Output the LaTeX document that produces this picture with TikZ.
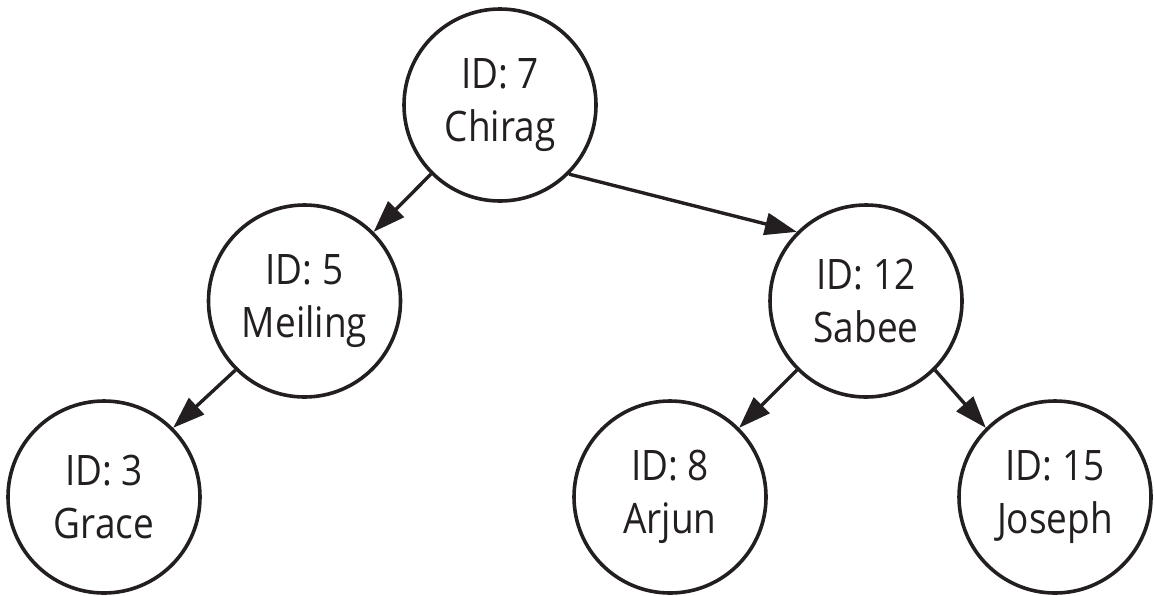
\documentclass[tikz,border=0pt]{standalone}
\usepackage{fontspec}
\setmainfont{Open Sans}[FakeStretch=0.88]
\usetikzlibrary{arrows.meta}
\definecolor{ink}{RGB}{35,31,32}
\begin{document}
\begin{tikzpicture}[x=0.5pt,y=-0.5pt,
  treenode/.style={circle,draw=ink,line width=1.8pt,minimum size=96pt,inner sep=0pt,
    align=center,text=ink,font=\fontsize{21pt}{26.5pt}\selectfont},
  link/.style={draw=ink,line width=1.7pt,-{Triangle[length=16pt,width=11pt]}}]
\useasboundingbox (0,0) rectangle (1154,595);
\node[treenode] (n7)  at (500,105)   {ID: 7\\Chirag};
\node[treenode] (n5)  at (304.5,301) {ID: 5\\Meiling};
\node[treenode] (n12) at (866,301)   {ID: 12\\Sabee};
\node[treenode] (n3)  at (104,497)   {ID: 3\\Grace};
\node[treenode] (n8)  at (670,497)   {ID: 8\\Arjun};
\node[treenode] (n15) at (1055,497)  {ID: 15\\Joseph};
\draw[link] (n7.south west)  -- (n5.north east);
\draw[link] (n7.south east)  -- (n12.north west);
\draw[link] (n5.south west)  -- (n3.north east);
\draw[link] (n12.south west) -- (n8.north east);
\draw[link] (n12.south east) -- (n15.north west);
\end{tikzpicture}
\end{document}
